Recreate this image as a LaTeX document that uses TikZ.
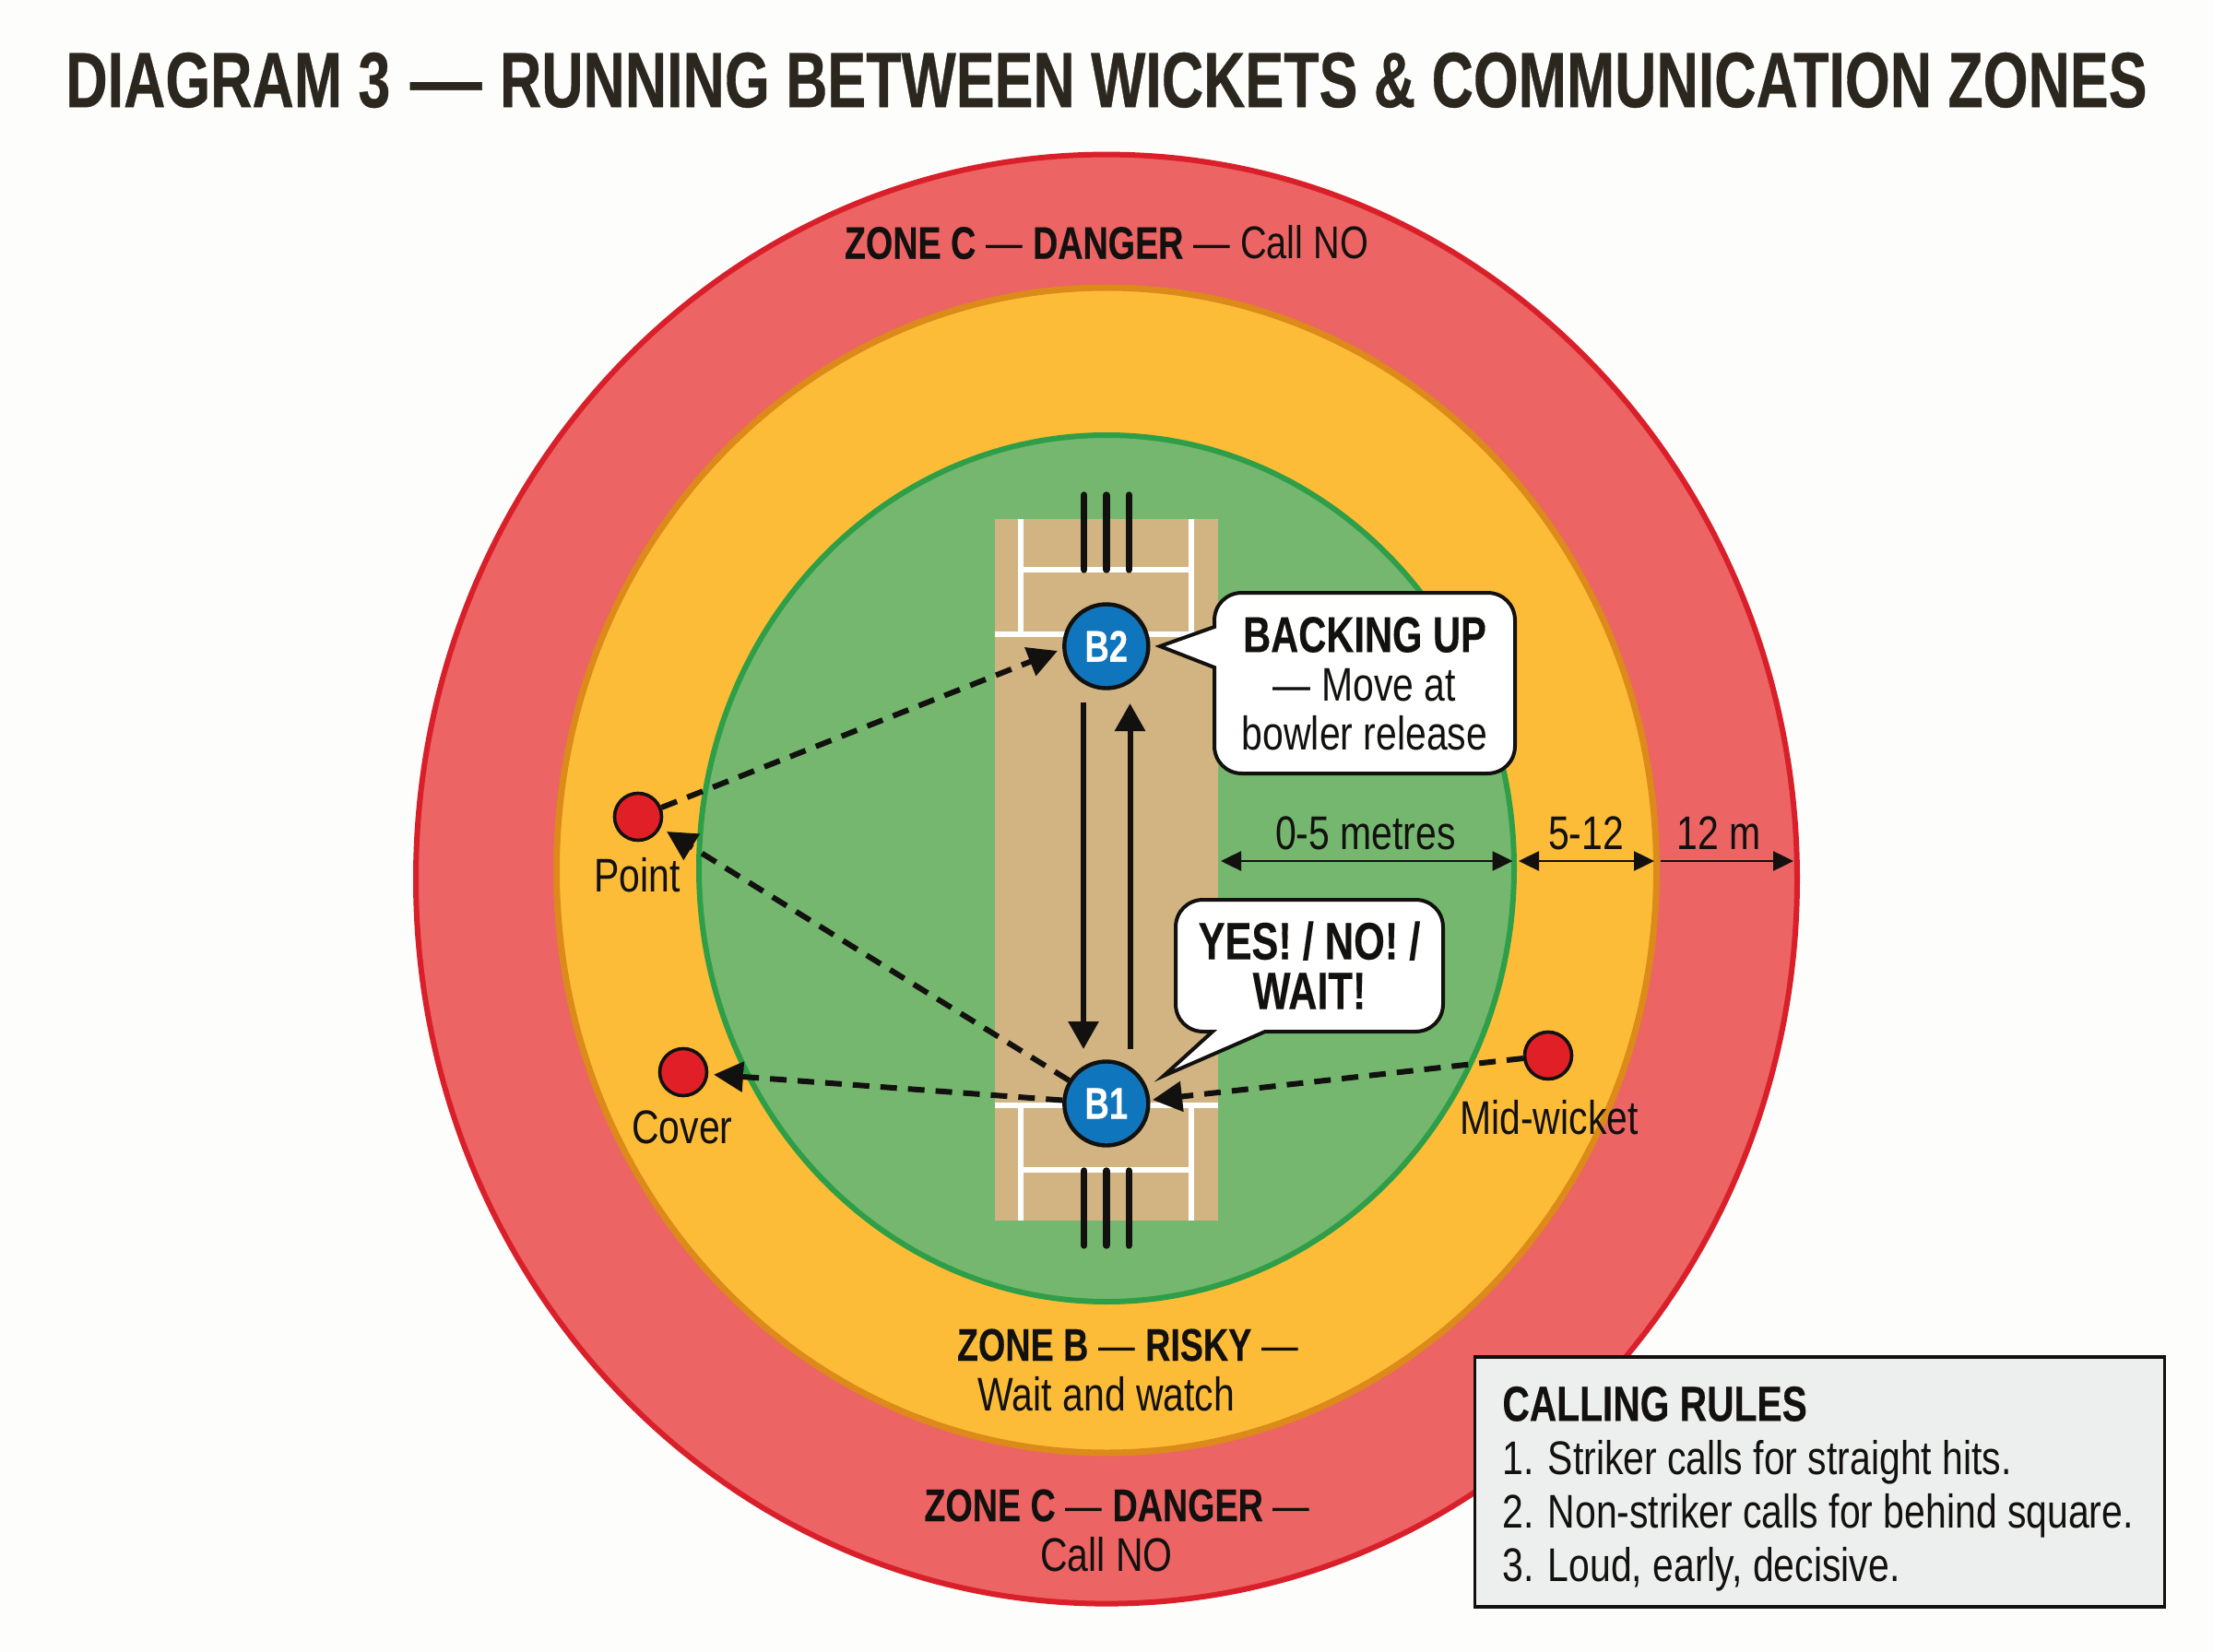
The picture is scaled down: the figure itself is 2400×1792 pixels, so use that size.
\documentclass[tikz,border=0pt]{standalone}
\usepackage{fontspec}
\usetikzlibrary{arrows.meta,calc}
\setmainfont{Liberation Sans}[FakeStretch=0.80,BoldFeatures={FakeStretch=0.76,FakeBold=0.25}]
\newfontfamily\titlefont{Liberation Sans}[BoldFeatures={FakeStretch=0.738,FakeBold=0.4}]
\definecolor{paper}{HTML}{FDFDFB}
\definecolor{zcfill}{HTML}{EC6464}
\definecolor{zcline}{HTML}{D9202A}
\definecolor{zbfill}{HTML}{FDBC38}
\definecolor{zbline}{HTML}{DC8A1A}
\definecolor{zafill}{HTML}{75B76F}
\definecolor{zaline}{HTML}{2E9E48}
\definecolor{pitchc}{HTML}{D2B482}
\definecolor{batc}{HTML}{0F75BC}
\definecolor{fieldc}{HTML}{E01F26}
\definecolor{ink}{HTML}{12110F}
\definecolor{titlec}{HTML}{2B261E}
\definecolor{boxc}{HTML}{EDEEEE}
\newcommand{\zonehead}{\fontsize{24.8}{27}\selectfont}
\tikzset{
  crease/.style={draw=white,line width=3pt},
  stump/.style={draw=ink,line width=3.7pt,line cap=round},
  runline/.style={draw=ink,line width=3pt,-{Triangle[length=15pt,width=16pt]}},
  dashline/.style={draw=ink,line width=3pt,dash pattern=on 9pt off 6pt,-{Triangle[length=16pt,width=16pt]}},
  dimline/.style={draw=ink,line width=1.25pt,{Triangle[length=11pt,width=10.5pt]}-{Triangle[length=11pt,width=10.5pt]}},
  dimlineone/.style={draw=ink,line width=1.25pt,-{Triangle[length=11pt,width=10.5pt]}},
  batter/.style={circle,draw=ink,line width=2.2pt,fill=batc,minimum size=45.5pt,inner sep=0pt,text=white,font=\bfseries\fontsize{24}{24}\selectfont},
  fielder/.style={circle,draw=ink,line width=1.8pt,fill=fieldc,minimum size=25.5pt,inner sep=0pt},
  lab/.style={text=ink,font=\fontsize{25.6}{27}\selectfont,align=center,inner sep=0pt},
  bubble/.style={draw=ink,line width=2pt,fill=white,line join=miter}
}
\begin{document}
\begin{tikzpicture}[x=0.5pt,y=-0.5pt]
\useasboundingbox (0,0) rectangle (2400,1792);
\fill[paper] (0,0) rectangle (2400,1792);
\node[inner sep=0pt,text=titlec,font=\titlefont\bfseries\fontsize{42.5}{50}\selectfont] (title) at (1200,87) {DIAGRAM 3\kern2pt\ \scalebox{1.24}[1]{—}\ \kern1pt RUNNING BETWEEN WICKETS \& COMMUNICATION ZONES};
% zones
\draw[zcline,fill=zcfill,line width=3pt] (1200,953.6) ellipse [x radius=749,y radius=786];
\draw[zbline,fill=zbfill,line width=3.5pt] (1200,944) ellipse [x radius=596.5,y radius=632];
\draw[zaline,fill=zafill,line width=3pt] (1200,942) ellipse [x radius=442,y radius=470];
% pitch
\fill[pitchc] (1078.6,563) rectangle (1320.6,1324);
\draw[crease] (1107,563) -- (1107,688) (1292,563) -- (1292,688) (1107,618) -- (1292,618) (1078.6,688) -- (1320.6,688);
\draw[crease] (1107,1199) -- (1107,1324) (1292,1199) -- (1292,1324) (1107,1269) -- (1292,1269) (1078.6,1199) -- (1320.6,1199);
\draw[stump] (1175.7,537) -- (1175.7,618) (1199.8,537) -- (1199.8,618) (1224.3,537) -- (1224.3,618);
\draw[stump] (1175.7,1270) -- (1175.7,1351) (1199.8,1270) -- (1199.8,1351) (1224.3,1270) -- (1224.3,1351);
% people
\node[batter] (b2) at (1199.8,701) {B2};
\node[batter] (b1) at (1199.8,1197) {B1};
\node[fielder] (point) at (692,886) {};
\node[fielder] (cover) at (741,1163) {};
\node[fielder] (mid) at (1679,1145) {};
\node[lab] (pointl) at (691,949) {Point};
\node[lab] (coverl) at (740,1223) {Cover};
\node[lab] (midl) at (1680,1212) {Mid-wicket};
% running
\coordinate (dn1) at (1175,762); \coordinate (dn2) at (1175,1138);
\coordinate (up1) at (1225.5,1138); \coordinate (up2) at (1225.5,763);
\draw[runline] (dn1) -- (dn2);
\draw[runline] (up1) -- (up2);
\coordinate (b2in) at (1147,706);
\coordinate (pointin) at (723,902);
\coordinate (coverin) at (774,1165.7);
\coordinate (b1in) at (1250,1193);
\draw[dashline] (point) -- (b2in);
\draw[dashline] (b1) -- (pointin);
\draw[dashline] (b1) -- (coverin);
\draw[dashline] (mid) -- (b1in);
% callouts
\draw[bubble] (1317,680) -- (1258,701) -- (1317,724) -- (1317,809) .. controls (1317,826) and (1330,839) .. (1347,839) -- (1613,839) .. controls (1630,839) and (1643,826) .. (1643,809) -- (1643,673) .. controls (1643,656) and (1630,643) .. (1613,643) -- (1347,643) .. controls (1330,643) and (1317,656) .. (1317,673) -- cycle;
\node[lab,font=\fontsize{25.6}{26.5}\selectfont] (backing) at (1480,741.5) {{\bfseries\fontsize{27.4}{26.5}\selectfont BACKING UP}\\— Move at\\bowler release};
\draw[bubble] (1315,1119) -- (1262,1167) -- (1372,1119) -- (1535,1119) .. controls (1552,1119) and (1565,1106) .. (1565,1089) -- (1565,1006) .. controls (1565,989) and (1552,976) .. (1535,976) -- (1305,976) .. controls (1288,976) and (1275,989) .. (1275,1006) -- (1275,1089) .. controls (1275,1106) and (1288,1119) .. (1305,1119) -- cycle;
\node[lab,font=\bfseries\fontsize{28.5}{27}\selectfont] (yes) at (1420,1047) {YES! / NO! /\\WAIT!};
% dimensions
\coordinate (d0) at (1324,934); \coordinate (d1) at (1640.5,934); \coordinate (d1b) at (1647,934); \coordinate (d2) at (1794,934); \coordinate (d2b) at (1801,934); \coordinate (d3) at (1945,934);
\draw[dimline] (d0) -- (d1);
\draw[dimline] (d1b) -- (d2);
\draw[dimlineone] (d2b) -- (d3);
\node[lab] (dl1) at (1481,904) {0-5 metres};
\node[lab] (dl2) at (1720,904) {5-12};
\node[lab] (dl3) at (1864,904) {12 m};
% zone labels
\node[lab,font=\zonehead] (zc1) at (1200,263) {\textbf{ZONE C} — \textbf{DANGER} — Call NO};
\node[lab] (zb1) at (1200,1486) {\hspace*{23pt}{\zonehead\textbf{ZONE B} — \textbf{RISKY} —}\\Wait and watch};
\node[lab] (zc2) at (1200,1660) {\hspace*{11.5pt}{\zonehead\textbf{ZONE C} — \textbf{DANGER} —}\\Call NO};
% rules
\node[draw=ink,line width=1.6pt,fill=boxc,minimum width=374pt,minimum height=135.5pt,inner sep=0pt] (rules) at (1973.7,1607.5) {};
\node[lab,align=left,anchor=north west,font=\fontsize{25.6}{29}\selectfont] (rulestext) at (1629,1503.5) {{\bfseries\fontsize{26.8}{29}\selectfont CALLING RULES}\\1. Striker calls for straight hits.\\2. Non-striker calls for behind square.\\3. Loud, early, decisive.};
\end{tikzpicture}
\end{document}
